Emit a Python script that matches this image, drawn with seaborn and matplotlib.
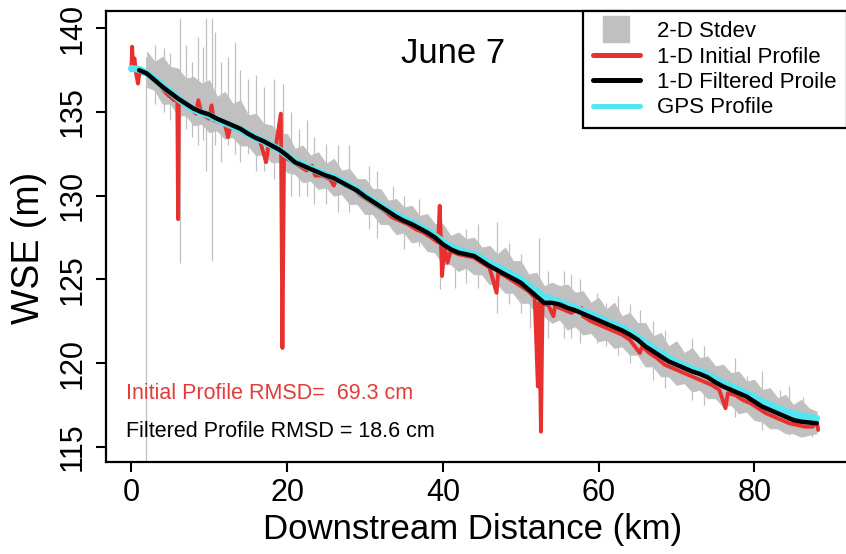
import numpy as np
import pandas as pd
import matplotlib
matplotlib.use('Agg')
import matplotlib.pyplot as plt
import seaborn as sns
from matplotlib.lines import Line2D

# distance grid (km) for the smooth series
km = np.arange(0, 89)

# 1-D filtered profile (black), read at every km
filtered_wse = [np.nan, 137.5, 137.3, 136.9, 136.5, 136.15, 135.8, 135.5, 135.2, 135.0,
                134.85, 134.6, 134.4, 134.2, 134.0, 133.7, 133.45, 133.25, 133.0, 132.75,
                132.4, 132.0, 131.8, 131.6, 131.4, 131.2, 131.05, 130.8, 130.55, 130.3,
                129.95, 129.65, 129.35, 129.05, 128.75, 128.5, 128.3, 128.05, 127.8, 127.5,
                127.1, 126.8, 126.6, 126.5, 126.4, 126.1, 125.8, 125.55, 125.3, 125.05,
                124.8, 124.4, 124.0, 123.6, 123.6, 123.5, 123.3, 123.15, 122.95, 122.75,
                122.55, 122.35, 122.15, 121.95, 121.7, 121.4, 121.0, 120.7, 120.4, 120.1,
                119.9, 119.7, 119.5, 119.35, 119.15, 118.85, 118.6, 118.4, 118.2, 118.0,
                117.7, 117.4, 117.2, 117.0, 116.8, 116.6, 116.5, 116.45, 116.4]

# GPS profile (cyan)
gps_wse = [137.6, 137.55, 137.3, 136.95, 136.55, 136.2, 135.8, 135.45, 135.15, 134.95,
           134.8, 134.55, 134.35, 134.15, 133.95, 133.7, 133.45, 133.25, 133.0, 132.75,
           132.4, 132.05, 131.85, 131.65, 131.45, 131.25, 131.1, 130.85, 130.6, 130.35,
           130.0, 129.7, 129.4, 129.1, 128.85, 128.6, 128.4, 128.15, 127.9, 127.6,
           127.25, 126.95, 126.75, 126.6, 126.5, 126.25, 125.95, 125.75, 125.5, 125.25,
           125.0, 124.65, 124.3, 123.95, 123.8, 123.65, 123.45, 123.3, 123.1, 122.9,
           122.7, 122.5, 122.3, 122.1, 121.85, 121.55, 121.2, 120.9, 120.6, 120.3,
           120.05, 119.85, 119.65, 119.5, 119.3, 119.05, 118.8, 118.6, 118.4, 118.2,
           117.95, 117.7, 117.5, 117.3, 117.1, 116.95, 116.85, 116.75, 116.7]

# 2-D stdev band (grey), upper and lower edges
stdev_upper = [np.nan, np.nan, 138.6, 138.0, 138.3, 137.7, 137.6, 137.0, 137.1, 136.7,
               136.9, 135.9, 136.2, 135.5, 135.7, 134.8, 134.9, 134.3, 134.2, 133.7,
               133.7, 132.8, 133.0, 132.4, 132.6, 131.9, 132.2, 131.5, 131.6, 131.0,
               131.0, 130.4, 130.4, 129.7, 129.8, 129.3, 129.4, 128.8, 128.9, 128.3,
               128.3, 127.6, 127.8, 127.4, 127.5, 126.9, 127.0, 126.5, 126.9, 126.1,
               126.1, 125.3, 125.4, 124.6, 124.8, 124.6, 124.7, 124.2, 124.3, 123.6,
               123.9, 123.2, 123.6, 122.8, 123.0, 122.4, 122.4, 121.6, 121.8, 121.0,
               121.3, 120.6, 120.9, 120.3, 120.4, 119.8, 119.9, 119.4, 119.5, 118.9,
               119.0, 118.4, 118.5, 117.9, 118.1, 117.5, 117.8, 117.3, 117.1]
stdev_lower = [np.nan, np.nan, 136.5, 136.3, 135.5, 135.5, 134.8, 134.8, 134.2, 134.3,
               133.8, 133.9, 133.4, 133.5, 133.0, 133.0, 132.4, 132.5, 132.0, 132.0,
               131.4, 131.3, 130.8, 130.9, 130.4, 130.5, 130.0, 130.1, 129.5, 129.5,
               128.9, 128.9, 128.3, 128.3, 127.7, 127.8, 127.2, 127.3, 126.7, 126.6,
               125.9, 125.9, 125.5, 125.7, 125.3, 125.3, 124.7, 124.7, 124.2, 124.2,
               123.6, 123.6, 122.9, 122.8, 122.4, 122.6, 122.0, 122.2, 121.7, 121.8,
               121.3, 121.4, 120.9, 121.0, 120.5, 120.5, 119.8, 119.8, 119.2, 119.2,
               118.7, 118.8, 118.3, 118.4, 117.9, 117.9, 117.4, 117.5, 117.0, 117.1,
               116.6, 116.5, 116.1, 116.1, 115.8, 115.8, 115.6, 115.7, 115.8]

# grey spikes of the 2-D stdev (km, low, high)
spike_km = [1.9, 3.0, 4.2, 5.0, 6.2, 7.0, 7.8, 8.5, 9.2, 9.6, 10.3, 10.8, 11.5, 12.4,
            13.3, 14.0, 15.0, 16.0, 17.0, 18.3, 19.5, 20.5, 21.5, 22.5, 23.5, 25.0,
            26.5, 28.0, 30.5, 31.5, 33.6, 35.0, 37.0, 39.6, 41.5, 43.0, 44.5, 46.9,
            48.5, 50.0, 51.2, 52.3, 53.5, 55.5, 56.5, 57.6, 59.8, 61.0, 62.5, 64.0,
            65.3, 67.0, 68.5, 70.0, 72.0, 73.5, 75.2, 77.5, 79.0, 81.0, 83.3, 84.5,
            86.3, 87.4]
spike_low = [113.0, 135.5, 135.0, 134.5, 126.0, 134.0, 133.5, 133.0, 133.3, 131.5,
             126.1, 133.0, 132.0, 133.0, 132.5, 132.0, 132.5, 131.5, 131.5, 131.0,
             130.5, 130.0, 130.0, 130.0, 129.5, 129.5, 129.0, 129.0, 128.0, 127.5,
             128.0, 126.8, 127.0, 124.4, 124.5, 124.8, 124.5, 123.0, 123.5, 123.0,
             122.1, 123.5, 121.5, 121.5, 121.5, 121.2, 121.2, 121.0, 120.5, 120.0,
             120.4, 119.0, 118.5, 119.2, 117.8, 117.5, 118.2, 116.8, 117.6, 116.0,
             116.5, 115.7, 116.0, 115.6]
spike_high = [138.3, 139.0, 138.8, 138.5, 140.6, 139.0, 138.0, 139.5, 138.9, 140.6,
              140.6, 139.8, 138.0, 138.3, 139.2, 137.5, 137.0, 137.2, 136.5, 137.0,
              136.7, 135.0, 134.0, 134.5, 133.5, 133.1, 133.0, 133.0, 131.8, 131.5,
              130.6, 130.0, 129.8, 128.5, 127.5, 128.0, 128.3, 128.4, 127.2, 126.5,
              124.2, 127.5, 125.5, 125.5, 125.3, 125.0, 124.2, 123.6, 124.0, 123.5,
              123.2, 122.5, 122.0, 121.2, 121.5, 121.0, 119.8, 120.3, 119.2, 119.5,
              118.4, 118.6, 118.0, 117.0]

# 1-D initial profile (red)
initial_km = [0.0, 0.1, 0.2, 0.4, 0.6, 0.85, 1.0, 1.5, 2.5, 3.5, 4.5, 5.5, 5.9, 6.0, 6.1,
              6.5, 7.5, 8.3, 8.6, 9.0, 10.0, 10.3, 10.6, 12.0, 12.4, 12.7, 14.0, 15.5,
              16.5, 17.3, 17.6, 18.5, 19.2, 19.4, 19.6, 20.5, 21.5, 22.5, 23.2, 23.6,
              24.5, 25.5, 26.0, 26.3, 27.5, 28.5, 29.5, 30.5, 31.5, 32.5, 33.5, 34.5,
              35.5, 36.5, 37.5, 38.5, 39.4, 39.6, 39.9, 40.2, 40.6, 41.0, 42.0, 43.0,
              44.0, 45.0, 46.0, 46.9, 47.1, 48.0, 49.0, 50.0, 51.0, 51.8, 52.2, 52.35,
              52.6, 52.8, 53.5, 54.2, 54.4, 55.5, 56.5, 57.8, 58.0, 59.0, 60.0, 61.0,
              62.0, 63.0, 64.0, 65.3, 65.6, 66.5, 67.5, 68.5, 69.5, 70.5, 71.5, 72.5,
              73.5, 74.5, 75.5, 76.3, 76.6, 77.5, 78.5, 79.5, 80.5, 81.5, 82.5, 83.5,
              84.5, 85.5, 86.5, 87.5, 88.0, 88.2]
initial_wse = [137.5, 138.9, 137.8, 138.2, 137.3, 136.7, 137.2, 137.5, 137.1, 136.7, 136.1,
               135.7, 135.9, 128.6, 135.6, 135.5, 135.3, 134.9, 135.7, 134.9, 134.6, 135.4,
               134.5, 134.3, 133.5, 134.1, 133.9, 133.5, 133.3, 132.0, 133.0, 132.8, 134.9,
               120.9, 132.3, 132.1, 131.8, 131.5, 131.8, 131.2, 131.2, 131.0, 130.6, 131.0,
               130.6, 130.4, 130.0, 129.7, 129.4, 129.1, 128.7, 128.5, 128.3, 128.0, 127.8,
               127.5, 127.2, 129.4, 125.2, 127.0, 126.0, 126.7, 126.5, 126.4, 126.3, 126.0,
               125.7, 124.2, 125.4, 125.2, 124.9, 124.6, 124.3, 123.9, 118.6, 123.6, 115.9,
               123.5, 123.5, 122.8, 123.4, 123.2, 123.0, 123.3, 122.8, 122.5, 122.3, 122.1,
               121.9, 121.7, 121.4, 120.6, 121.0, 120.6, 120.3, 119.9, 119.7, 119.5, 119.3,
               119.1, 118.9, 118.7, 118.4, 117.3, 118.2, 118.1, 117.8, 117.6, 117.3, 117.0,
               116.8, 116.6, 116.4, 116.3, 116.2, 116.2, 116.6, 116.0]

red = '#e8312f'
cyan = '#50e6f2'
grey = '#c0c0c0'

sns.set_style('ticks')
plt.rcParams['font.family'] = ['Liberation Sans', 'DejaVu Sans']
plt.rcParams['text.color'] = 'black'
plt.rcParams['axes.labelcolor'] = 'black'

fig = plt.figure(figsize=(8.46, 5.54), dpi=100)
ax = fig.add_axes([0.1249, 0.1655, 0.8781, 0.8145])

df_smooth = pd.DataFrame({'km': km, 'filtered': filtered_wse, 'gps': gps_wse,
                          'upper': stdev_upper, 'lower': stdev_lower})
df_initial = pd.DataFrame({'km': initial_km, 'wse': initial_wse})

# grey 2-D stdev band + spikes
ax.fill_between(df_smooth['km'], df_smooth['lower'], df_smooth['upper'],
                color=grey, lw=0.6, zorder=1)
ax.vlines(spike_km, spike_low, spike_high, color=grey, lw=0.9, zorder=1)

sns.lineplot(data=df_initial, x='km', y='wse', ax=ax, color=red, lw=2.8,
             sort=False, estimator=None, zorder=2)
sns.lineplot(data=df_smooth, x='km', y='gps', ax=ax, color=cyan, lw=5,
             sort=False, estimator=None, zorder=3)
sns.lineplot(data=df_smooth, x='km', y='filtered', ax=ax, color='black', lw=3.2,
             sort=False, estimator=None, zorder=4)

ax.set_xlim(-3.3, 92.1)
ax.set_ylim(114.07, 141.03)
ax.set_xticks([0, 20, 40, 60, 80])
ax.set_yticks([115, 120, 125, 130, 135, 140])

for side in ['top', 'right', 'left', 'bottom']:
    ax.spines[side].set_visible(True)
    ax.spines[side].set_linewidth(1.6)
    ax.spines[side].set_color('black')

ax.tick_params(direction='out', length=7, width=1.5, labelsize=22, colors='black')
ax.tick_params(axis='x', pad=4)
ax.tick_params(axis='y', labelrotation=90, pad=6)
plt.setp(ax.get_yticklabels(), va='center')

ax.set_xlabel('Downstream Distance (km)', fontsize=25, va='center')
ax.set_ylabel('WSE (m)', fontsize=27, va='center')
ax.xaxis.set_label_coords(0.4935, -0.15)
ax.yaxis.set_label_coords(-0.1036, 0.475)

ax.text(41.3, 138.52, 'June 7', fontsize=25, ha='center', va='center')
ax.text(-0.64, 118.2, 'Initial Profile RMSD=  69.3 cm', fontsize=15.5,
        color='#e23b3b', ha='left', va='center')
ax.text(-0.64, 115.9, 'Filtered Profile RMSD = 18.6 cm', fontsize=15.5,
        color='black', ha='left', va='center')

handles = [
    Line2D([], [], marker='s', color=grey, markersize=19, linestyle='none'),
    Line2D([], [], color=red, lw=3.6),
    Line2D([], [], color='black', lw=3.6),
    Line2D([], [], color=cyan, lw=3.6),
]
labels = ['2-D Stdev', '1-D Initial Profile', '1-D Filtered Proile', 'GPS Profile']
leg = ax.legend(handles, labels, loc='upper left', bbox_to_anchor=(0.6426, 1.0),
                borderaxespad=0, fontsize=16, borderpad=0.45, handlelength=2.1,
                handletextpad=0.8, labelspacing=0.2, fancybox=False, framealpha=1,
                edgecolor='black')
leg.get_frame().set_linewidth(1.6)
leg.set_zorder(10)

fig.savefig('out.png', dpi=100)
